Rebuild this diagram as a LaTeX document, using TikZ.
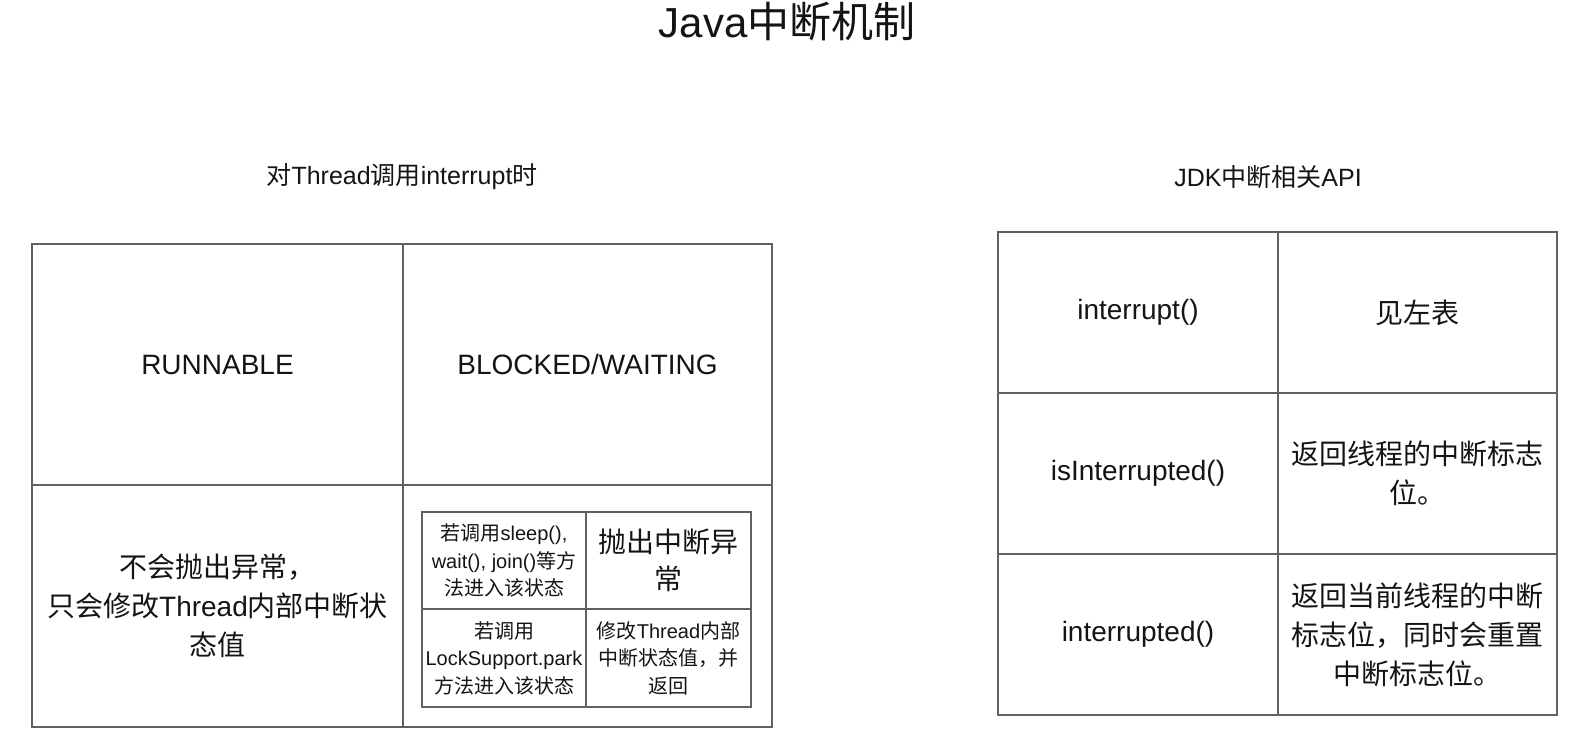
\documentclass[tikz,border=0pt]{standalone}
\usepackage{fontspec}
\setmainfont{Noto Sans CJK SC}
\newfontfamily\enfont{Liberation Sans}
\newcommand{\entxt}[1]{{\enfont #1}}
\tikzset{
  tbl/.style={draw=black!62, line width=1.3pt},
  cell/.style={align=center, text=black!92, font=\fontsize{28}{39}\selectfont},
  smallcell/.style={align=center, text=black!92, font=\fontsize{20}{27.5}\selectfont},
  bigcell/.style={align=center, text=black!92, font=\fontsize{28}{37}\selectfont},
  heading/.style={text=black!92, font=\fontsize{25}{30}\selectfont},
}

\begin{document}
\begin{tikzpicture}[x=1pt,y=-1pt]
\useasboundingbox (0,0) rectangle (1593,753);

% titles
\node[text=black!92, font=\fontsize{42}{50}\selectfont] (title) at (787,22) {\entxt{Java}中断机制};
\node[heading] (lefthead) at (402,177) {对\entxt{Thread}调用\entxt{interrupt}时};
\node[heading] (righthead) at (1268,177) {\entxt{JDK}中断相关\entxt{API}};

% left table
\draw[tbl] (32,244) rectangle (772,727);
\draw[tbl] (403,244) -- (403,727);
\draw[tbl] (32,485) -- (772,485);
\node[cell] (runnable) at (217.5,364.5) {\entxt{RUNNABLE}};
\node[cell] (blocked) at (587.5,364.5) {\entxt{BLOCKED/WAITING}};
\node[cell] (nothrow) at (217.5,606) {不会抛出异常，\\只会修改\entxt{Thread}内部中断状\\态值};

% inner table
\draw[tbl] (422,512) rectangle (751,707);
\draw[tbl] (586,512) -- (586,707);
\draw[tbl] (422,609) -- (751,609);
\node[smallcell] (sleepcall) at (504,560.5) {若调用\entxt{sleep(),}\\\entxt{wait(), join()}等方\\法进入该状态};
\node[bigcell] (throwexc) at (668.5,560.5) {抛出中断异\\常};
\node[smallcell] (parkcall) at (504,658) {若调用\\\entxt{LockSupport.park}\\方法进入该状态};
\node[smallcell] (setflag) at (668.5,658) {修改\entxt{Thread}内部\\中断状态值，并\\返回};

% right table
\draw[tbl] (998,232) rectangle (1557,715);
\draw[tbl] (1278,232) -- (1278,715);
\draw[tbl] (998,393) -- (1557,393);
\draw[tbl] (998,554) -- (1557,554);
\node[cell] (interrupt) at (1138,312.5) {\entxt{interrupt()}};
\node[cell] (seeleft) at (1417,312.5) {见左表};
\node[cell] (isinterrupted) at (1138,473.5) {\entxt{isInterrupted()}};
\node[cell] (flagret) at (1417,473.5) {返回线程的中断标志\\位。};
\node[cell] (interrupted) at (1138,634.5) {\entxt{interrupted()}};
\node[cell] (flagreset) at (1417,634.5) {返回当前线程的中断\\标志位，同时会重置\\中断标志位。};
\end{tikzpicture}
\end{document}
